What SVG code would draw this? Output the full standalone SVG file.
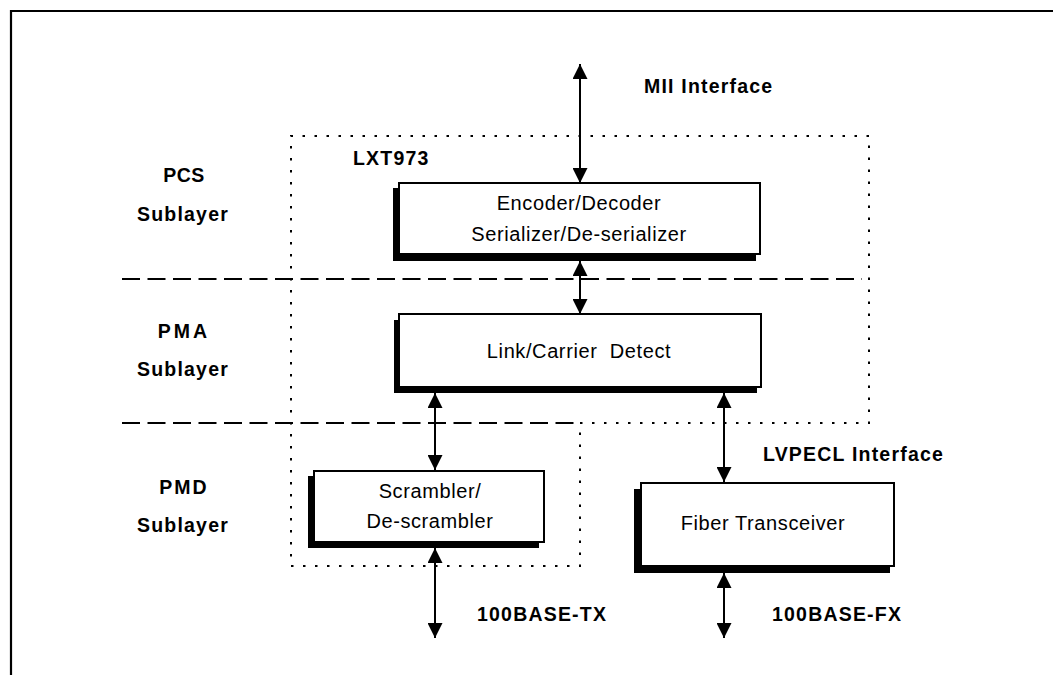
<svg xmlns="http://www.w3.org/2000/svg" width="1053" height="675" viewBox="0 0 1053 675">
<style>
.frame{stroke:#000;stroke-width:2.2;fill:none}
.dash{stroke:#000;stroke-width:2.2;fill:none;stroke-dasharray:18 7.5}
.dot{stroke:#000;stroke-width:2;fill:none;stroke-dasharray:2.5 9.5}
.box{fill:#fff;stroke:#000;stroke-width:2}
.shadow{fill:#000;stroke:none}
.arrow{stroke:#000;stroke-width:2;fill:none;marker-start:url(#ah);marker-end:url(#ah)}
.b{font-family:"Liberation Sans",Arial,sans-serif;font-weight:bold;font-size:19.5px;letter-spacing:1.2px;fill:#000}
.n{font-family:"Liberation Sans",Arial,sans-serif;font-size:20px;letter-spacing:0.6px;fill:#000;text-anchor:middle}
.c{text-anchor:middle}
</style>
<defs>
<marker id="ah" viewBox="0 0 15 15" refX="15" refY="7.5" markerWidth="15" markerHeight="15" markerUnits="userSpaceOnUse" orient="auto-start-reverse">
<path d="M0,0 L15,7.5 L0,15 z" fill="#000"/>
</marker>
</defs>

<g id="frame">
<path class="frame" d="M11,675 V11 H1053"/>
</g>

<g id="layer-lines">
<line class="dash" x1="122" y1="279" x2="862" y2="279"/>
<line class="dash" x1="122" y1="423" x2="580" y2="423"/>
</g>

<g id="lxt973">
<path class="dot" d="M580,423 H869 V136 H291 V566 H580 V423"/>
<text class="b" x="353" y="165">LXT973</text>
</g>

<g id="sublayer-labels">
<text class="b c" x="184" y="182" style="letter-spacing:0.5px">PCS</text>
<text class="b c" x="183" y="221">Sublayer</text>
<text class="b c" x="184" y="338" style="letter-spacing:3px">PMA</text>
<text class="b c" x="183" y="376">Sublayer</text>
<text class="b c" x="184" y="494" style="letter-spacing:2px">PMD</text>
<text class="b c" x="183" y="532">Sublayer</text>
</g>

<g id="encoder">
<rect class="shadow" x="393" y="188" width="363" height="73"/>
<rect class="box" x="399" y="183" width="361" height="71"/>
<text class="n" x="579" y="210">Encoder/Decoder</text>
<text class="n" x="579" y="241">Serializer/De-serializer</text>
</g>

<g id="link">
<rect class="shadow" x="394" y="320" width="363" height="73"/>
<rect class="box" x="399" y="314" width="362" height="73"/>
<text class="n" x="579" y="358" xml:space="preserve">Link/Carrier  Detect</text>
</g>

<g id="scrambler">
<rect class="shadow" x="308" y="476" width="231" height="72"/>
<rect class="box" x="314" y="471" width="230" height="71"/>
<text class="n" x="430" y="498">Scrambler/</text>
<text class="n" x="430" y="528">De-scrambler</text>
</g>

<g id="fiber">
<rect class="shadow" x="634" y="489" width="256" height="84"/>
<rect class="box" x="641" y="483" width="253" height="83"/>
<text class="n" x="763" y="530">Fiber Transceiver</text>
</g>

<g id="connectors">
<line class="arrow" x1="580" y1="64" x2="580" y2="183"/>
<line class="arrow" x1="580" y1="261" x2="580" y2="314"/>
<line class="arrow" x1="435" y1="393" x2="435" y2="470"/>
<line class="arrow" x1="724" y1="393" x2="724" y2="482"/>
<line class="arrow" x1="435" y1="548" x2="435" y2="638"/>
<line class="arrow" x1="724" y1="573" x2="724" y2="638"/>
</g>

<g id="interface-labels">
<text class="b" x="644" y="93">MII Interface</text>
<text class="b" x="763" y="461">LVPECL Interface</text>
<text class="b" x="477" y="621">100BASE-TX</text>
<text class="b" x="772" y="621">100BASE-FX</text>
</g>
</svg>
